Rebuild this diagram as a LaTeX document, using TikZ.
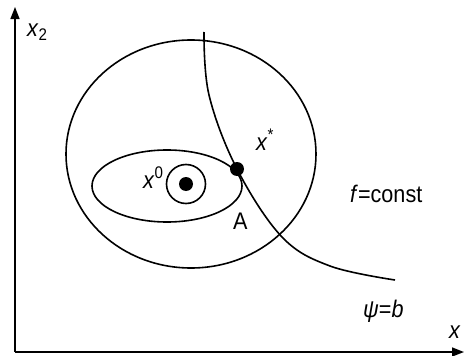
\documentclass[tikz,border=0pt]{standalone}
\usepackage{fontspec}
\usepackage{tikz}
\usetikzlibrary{arrows.meta, positioning, calc}
\newfontfamily\narrowsf[FakeStretch=0.9]{Liberation Sans}
\tikzset{
  curve/.style={line width=1.6pt, black},
  axis/.style={line width=1.6pt, -{Triangle[length=12pt,width=9pt]}},
  lbl/.style={font=\narrowsf\fontsize{24}{24}\selectfont, inner sep=0pt},
  spot/.style={circle, fill=black, inner sep=0pt, minimum size=14pt}
}
\begin{document}
\begin{tikzpicture}[x=1pt,y=-1pt]
  \useasboundingbox (0,0) rectangle (464,356);
  % axes
  \coordinate (orig) at (15,352);
  \coordinate (xend) at (464,352);
  \coordinate (yend) at (15,7);
  \draw[axis] (orig) -- (yend);
  \draw[axis] (orig) -- (xend);
  \node[lbl, anchor=base west] (xtwo) at (27,37) {\textit{x}\textsubscript{2}};
  \node[lbl, anchor=base west] (xone) at (449,338) {\textit{x}};
  % level sets
  \draw[curve] (191,154) ellipse [x radius=125, y radius=114];
  \draw[curve] (167,186) ellipse [x radius=75, y radius=36];
  \draw[curve] (186,184) circle [radius=19.5];
  \node[spot] (xzero) at (186,184) {};
  % constraint
  \draw[curve] plot[smooth, tension=0.6] coordinates
    {(204,32) (209,95) (237,169) (282,237) (330,266) (395,280)};
  \node[spot] (pA) at (237,169) {};
  % labels
  \node[lbl, anchor=base west] (lzero) at (143,188) {\textit{x}\textsuperscript{0}};
  \node[lbl, anchor=base west] (lstar) at (256,150) {\textit{x}\textsuperscript{*}};
  \node[lbl, anchor=base west] (lA) at (233,229) {A};
  \node[lbl, anchor=base west] (lf) at (350,202) {\textit{f}=const};
  \node[lbl, anchor=base west] (lpsi) at (363,317) {\textit{ψ}=\textit{b}};
\end{tikzpicture}
\end{document}
